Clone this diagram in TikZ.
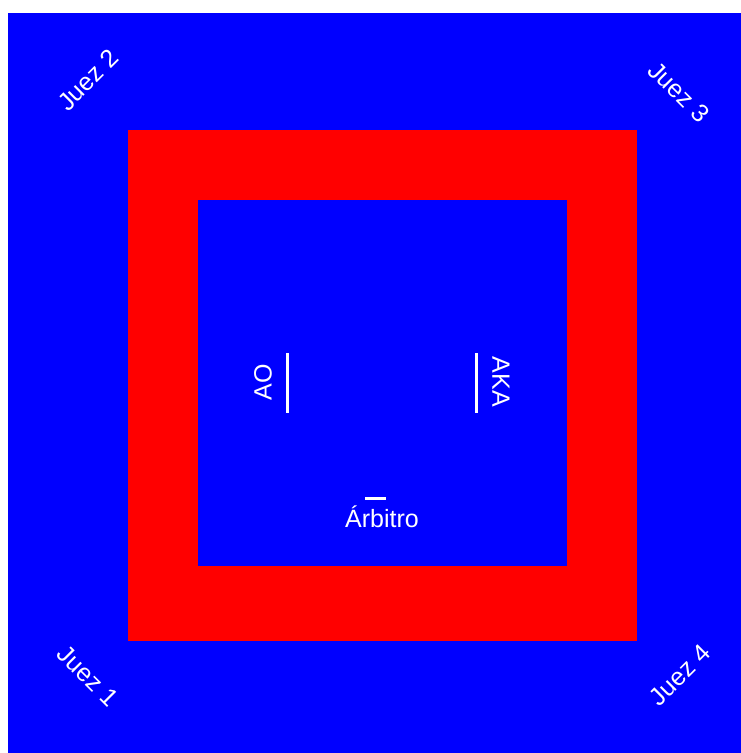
\documentclass[tikz,border=0pt]{standalone}
\usepackage{fontspec}
\setmainfont{Liberation Sans}
\definecolor{tatamiblue}{RGB}{0,0,255}
\definecolor{tatamired}{RGB}{255,0,0}
\begin{document}
\begin{tikzpicture}[x=1pt,y=-1pt,
  lbl/.style={text=white,font=\fontsize{25}{28}\selectfont,inner sep=0pt},
  bar/.style={draw=white,line width=3pt}]
\useasboundingbox (0,0) rectangle (741,753);
\fill[white] (0,0) rectangle (741,753);
% outer mat
\fill[tatamiblue] (8,13) rectangle (741,753);
% red zone
\fill[tatamired] (128,130) rectangle (637,641);
% inner area
\fill[tatamiblue] (198,200) rectangle (567,566);
% judges
\node[lbl,rotate=45]  (j2) at (88,80)   {Juez 2};
\node[lbl,rotate=-45] (j3) at (679,92)  {Juez 3};
\node[lbl,rotate=-45] (j1) at (88,676)  {Juez 1};
\node[lbl,rotate=45]  (j4) at (680,675) {Juez 4};
% competitors
\node[lbl,rotate=90]  (ao)  at (263,382) {AO};
\node[lbl,rotate=-90] (aka) at (501,382) {AKA};
\node[lbl] (arb) at (382,517) {Árbitro};
% marks
\coordinate (aoT) at (287,353);
\coordinate (aoB) at (287,413);
\coordinate (akaT) at (476,353);
\coordinate (akaB) at (476,413);
\coordinate (arL) at (365,498);
\coordinate (arR) at (386,498);
\draw[bar] (aoT) -- (aoB);
\draw[bar] (akaT) -- (akaB);
\draw[bar] (arL) -- (arR);
\end{tikzpicture}
\end{document}
